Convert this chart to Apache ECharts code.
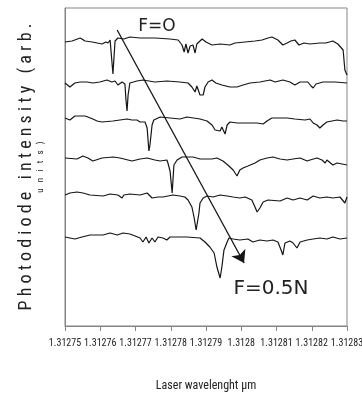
<!DOCTYPE html>
<html>
<head>
<meta charset="utf-8">
<script src="https://cdn.jsdelivr.net/npm/echarts@6.0.0/dist/echarts.min.js"></script>
<style>
  html, body { margin: 0; padding: 0; background: #fff; }
  #chart { width: 362px; height: 394px; }
</style>
</head>
<body>
<div id="chart"></div>
<script>
// wavelength (µm) ticks of the x axis
const wlMin = 1.31275
const wlMax = 1.31283
const wlStep = 0.00001

// photodiode traces, [wavelength µm, intensity arb. units], F = 0 at the top
const traceF1 = [
  [1.31275, 28.4], [1.312752, 28.5], [1.3127543, 28.8], [1.3127557, 28.5], [1.3127577, 28.4],
  [1.3127591, 28.3], [1.3127605, 28.2], [1.3127616, 28.4], [1.3127622, 28.3], [1.3127628, 28.6],
  [1.3127633, 28.5], [1.3127636, 25.2], [1.3127639, 25.2], [1.3127642, 28.5], [1.312765, 28.8],
  [1.3127667, 28.7], [1.3127684, 28.9], [1.3127713, 28.8], [1.3127755, 28.8], [1.3127798, 28.7],
  [1.3127821, 28.6], [1.3127832, 28.1], [1.3127838, 27.4], [1.3127843, 28.2], [1.3127849, 27.3],
  [1.3127855, 28.0], [1.3127863, 28.1], [1.3127869, 27.3], [1.3127874, 28.2], [1.3127889, 28.7],
  [1.31279, 28.4], [1.3127917, 28.1], [1.312794, 28.2], [1.3127968, 28.1], [1.3127982, 28.3],
  [1.3128011, 28.4], [1.3128039, 28.5], [1.3128059, 28.6], [1.3128076, 28.8], [1.3128087, 28.9],
  [1.3128104, 28.6], [1.3128118, 28.1], [1.312813, 28.3], [1.3128141, 28.5], [1.3128152, 28.6],
  [1.3128164, 28.1], [1.3128178, 28.3], [1.3128195, 28.2], [1.3128223, 28.3], [1.312824, 28.3],
  [1.312826, 28.5], [1.3128274, 28.2], [1.3128289, 27.6], [1.3128294, 25.6], [1.31283, 25.1]
]
const traceF2 = [
  [1.31275, 24.3], [1.3127514, 23.9], [1.3127528, 24.3], [1.3127543, 24.4], [1.3127562, 24.4],
  [1.3127579, 24.3], [1.3127599, 24.4], [1.3127619, 24.6], [1.3127633, 24.4], [1.3127642, 24.5],
  [1.312765, 24.1], [1.3127662, 24.4], [1.312767, 24.2], [1.3127673, 22.6], [1.3127676, 21.5],
  [1.3127679, 23.1], [1.3127684, 24.3], [1.3127704, 24.5], [1.3127721, 24.6], [1.3127755, 24.4],
  [1.3127789, 24.5], [1.3127826, 24.4], [1.3127849, 24.3], [1.312786, 23.9], [1.3127869, 23.4],
  [1.3127874, 24.0], [1.3127883, 23.1], [1.3127892, 23.1], [1.3127897, 23.9], [1.3127906, 24.4],
  [1.3127917, 24.6], [1.3127928, 24.3], [1.3127945, 24.1], [1.3127968, 23.9], [1.3127988, 23.9],
  [1.3128005, 24.1], [1.3128025, 24.3], [1.3128053, 24.4], [1.3128082, 24.6], [1.3128096, 24.4],
  [1.3128118, 24.6], [1.3128138, 24.4], [1.3128152, 24.1], [1.3128167, 24.4], [1.3128189, 24.4],
  [1.3128198, 24.0], [1.3128204, 23.8], [1.3128212, 24.2], [1.3128232, 24.4], [1.3128266, 24.4],
  [1.31283, 24.3]
]
const traceF3 = [
  [1.31275, 20.8], [1.3127514, 20.6], [1.3127528, 21.0], [1.3127557, 21.0], [1.3127579, 20.7],
  [1.3127591, 20.5], [1.3127605, 20.4], [1.3127636, 20.5], [1.3127656, 20.6], [1.3127676, 20.7],
  [1.312769, 20.6], [1.3127704, 20.6], [1.3127713, 20.4], [1.3127727, 20.4], [1.3127733, 19.8],
  [1.3127738, 17.5], [1.3127741, 18.1], [1.3127747, 20.1], [1.3127752, 20.6], [1.312777, 20.9],
  [1.3127798, 20.8], [1.3127826, 20.7], [1.3127846, 20.9], [1.3127883, 20.7], [1.3127903, 20.5],
  [1.3127917, 20.1], [1.3127926, 19.6], [1.3127931, 19.8], [1.312794, 19.5], [1.3127945, 19.9],
  [1.3127954, 19.2], [1.312796, 20.1], [1.3127968, 20.4], [1.3127988, 20.3], [1.3128045, 20.3],
  [1.3128062, 20.2], [1.3128073, 20.5], [1.3128087, 20.8], [1.312813, 20.8], [1.3128152, 20.7],
  [1.3128181, 20.6], [1.3128195, 20.7], [1.3128204, 20.3], [1.3128215, 20.1], [1.3128223, 19.8],
  [1.3128232, 20.1], [1.3128243, 20.4], [1.3128272, 20.6], [1.3128289, 20.5], [1.31283, 20.5]
]
const traceF4 = [
  [1.31275, 16.8], [1.3127534, 16.7], [1.3127551, 17.0], [1.3127565, 16.8], [1.3127579, 16.5],
  [1.3127605, 16.8], [1.3127636, 16.9], [1.3127656, 16.8], [1.312769, 16.5], [1.3127713, 16.7],
  [1.3127733, 16.8], [1.3127755, 16.6], [1.312777, 16.5], [1.3127789, 16.6], [1.3127792, 16.3],
  [1.3127798, 15.5], [1.3127804, 13.3], [1.3127806, 13.1], [1.3127809, 16.1], [1.3127818, 16.6],
  [1.3127832, 16.9], [1.3127863, 16.9], [1.3127883, 16.7], [1.3127917, 16.7], [1.3127931, 16.8],
  [1.3127948, 16.5], [1.3127962, 16.1], [1.3127977, 15.6], [1.3127988, 15.0], [1.3127996, 15.6],
  [1.3128005, 15.8], [1.3128019, 16.0], [1.3128039, 16.3], [1.3128053, 16.6], [1.3128073, 16.8],
  [1.312809, 16.9], [1.312811, 16.7], [1.312813, 16.6], [1.3128147, 16.7], [1.3128167, 16.8],
  [1.3128187, 16.5], [1.3128195, 16.6], [1.3128215, 16.8], [1.3128229, 16.6], [1.3128238, 16.3],
  [1.3128243, 16.6], [1.312826, 16.1], [1.3128272, 16.3], [1.31283, 16.1]
]
const traceF5 = [
  [1.31275, 13.1], [1.3127514, 13.3], [1.3127534, 13.4], [1.3127551, 13.3], [1.3127571, 13.1],
  [1.3127608, 13.0], [1.3127628, 13.2], [1.312765, 13.1], [1.3127662, 12.8], [1.3127667, 13.1],
  [1.3127684, 13.2], [1.3127713, 13.1], [1.3127733, 13.3], [1.3127747, 12.8], [1.3127764, 12.9],
  [1.3127778, 12.9], [1.3127806, 13.1], [1.3127826, 13.0], [1.312784, 12.9], [1.3127849, 12.6],
  [1.312786, 11.9], [1.3127866, 10.9], [1.3127872, 9.6], [1.3127874, 9.4], [1.312788, 11.3],
  [1.3127883, 12.3], [1.3127892, 12.8], [1.3127903, 13.0], [1.312792, 12.9], [1.312794, 13.1],
  [1.312796, 13.0], [1.3127977, 12.9], [1.3127996, 12.8], [1.3128011, 12.9], [1.312803, 12.6],
  [1.3128039, 11.9], [1.3128045, 11.4], [1.3128053, 11.8], [1.3128062, 12.4], [1.3128076, 12.6],
  [1.312811, 12.5], [1.312813, 12.8], [1.3128147, 12.6], [1.3128167, 12.8], [1.3128187, 12.6],
  [1.3128204, 13.0], [1.3128223, 12.8], [1.3128243, 12.9], [1.312826, 12.8], [1.312828, 12.9],
  [1.3128294, 12.3], [1.31283, 12.9]
]
const traceF6 = [
  [1.31275, 8.9], [1.3127514, 8.8], [1.3127528, 8.7], [1.3127548, 8.9], [1.3127571, 9.1],
  [1.3127608, 9.1], [1.3127628, 9.3], [1.3127648, 9.1], [1.3127665, 9.3], [1.3127684, 9.2],
  [1.3127699, 9.0], [1.3127713, 8.8], [1.3127721, 8.4], [1.312773, 8.9], [1.3127738, 8.3],
  [1.3127747, 8.8], [1.3127755, 8.4], [1.3127764, 8.9], [1.3127778, 8.8], [1.3127789, 8.6],
  [1.3127798, 8.9], [1.3127812, 8.9], [1.3127846, 8.9], [1.3127883, 8.8], [1.3127897, 8.4],
  [1.3127911, 7.9], [1.3127923, 7.3], [1.3127931, 5.9], [1.312794, 4.8], [1.3127945, 5.9],
  [1.3127951, 7.6], [1.312796, 8.4], [1.3127965, 8.8], [1.3127977, 8.7], [1.3127996, 8.6],
  [1.3128019, 8.7], [1.3128033, 8.4], [1.3128053, 8.6], [1.3128073, 8.5], [1.312809, 8.6],
  [1.3128104, 8.4], [1.3128113, 7.6], [1.3128118, 7.1], [1.3128124, 8.3], [1.3128138, 8.5],
  [1.3128147, 8.3], [1.3128158, 7.8], [1.3128167, 8.4], [1.3128187, 8.6], [1.3128204, 8.7],
  [1.3128223, 8.8], [1.3128243, 8.7], [1.312826, 8.9], [1.312828, 8.7], [1.31283, 8.8]
]
const traces = [traceF1, traceF2, traceF3, traceF4, traceF5, traceF6]

// arrow from F=O down to F=0.5N
const arrowStart = [1.3127648, 29.6]
const arrowEnd = [1.3128008, 6.3]

const narrow = '"Roboto Condensed", "DejaVu Sans Condensed", sans-serif'
const frameColor = '#858585'
const inkColor = '#151515'

const chart = echarts.init(document.getElementById('chart'), null, { renderer: 'canvas' })

const series = traces.map((data, i) => ({
  type: 'line',
  data,
  showSymbol: false,
  silent: true,
  lineStyle: { color: inkColor, width: 1.2 },
  markLine: i === traces.length - 1 ? {
    silent: true,
    symbol: ['none', 'arrow'],
    symbolSize: 12,
    label: { show: false },
    lineStyle: { color: inkColor, width: 1.3, type: 'solid' },
    data: [[{ coord: arrowStart }, { coord: arrowEnd }]]
  } : undefined
}))

chart.setOption({
  animation: false,
  grid: {
    left: 65, right: 15, top: 8, bottom: 68,
    outerBoundsMode: 'none',
    containLabel: false,
    show: true, borderColor: frameColor, borderWidth: 1
  },
  xAxis: {
    type: 'value',
    min: wlMin,
    max: wlMax,
    interval: wlStep,
    name: 'Laser wavelenght µm',
    nameLocation: 'middle',
    nameGap: 54,
    nameTextStyle: { fontFamily: narrow, fontSize: 12, color: '#222' },
    axisLine: { lineStyle: { color: frameColor } },
    axisTick: { length: 5, lineStyle: { color: frameColor } },
    splitLine: { show: false },
    axisLabel: {
      margin: 12,
      fontFamily: narrow,
      fontSize: 10,
      color: '#222',
      showMinLabel: true,
      showMaxLabel: true,
      hideOverlap: false,
      formatter: (v) => String(parseFloat(v.toFixed(5)))
    }
  },
  yAxis: {
    type: 'value',
    min: 0,
    max: 31.8,
    name: '{a|P h o t o d i o d e   i n t e n s i t y   ( a r b .}\n{b|u   n   i   t   s   )}',
    nameLocation: 'middle',
    nameRotate: 90,
    nameGap: 20,
    nameTextStyle: {
      rich: {
        a: { fontFamily: narrow, fontSize: 18, lineHeight: 20, color: '#222' },
        b: { fontFamily: narrow, fontSize: 9, lineHeight: 9, color: '#222' }
      }
    },
    axisLine: { show: true, lineStyle: { color: frameColor } },
    axisTick: { show: false },
    axisLabel: { show: false },
    splitLine: { show: false }
  },
  graphic: [
    {
      type: 'text', x: 157, y: 27, silent: true,
      style: {
        text: 'F=O', fill: '#222', align: 'center', verticalAlign: 'middle',
        font: '17px "DejaVu Sans", sans-serif'
      }
    },
    {
      type: 'text', x: 271, y: 289, silent: true,
      style: {
        text: 'F=0.5N', fill: '#222', align: 'center', verticalAlign: 'middle',
        font: '20px "DejaVu Sans", sans-serif'
      }
    }
  ],
  series
})
</script>
</body>
</html>
